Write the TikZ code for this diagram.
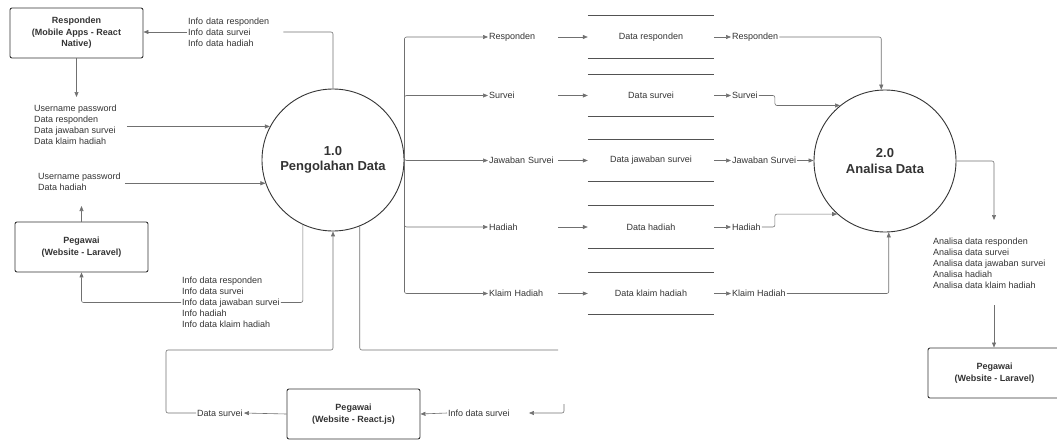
\documentclass[tikz,border=0pt]{standalone}
\usepackage{fontspec}
\setmainfont{Liberation Sans}
\usetikzlibrary{arrows.meta}

\definecolor{ink}{HTML}{333333}
\definecolor{linegray}{HTML}{707070}

\begin{document}
\begin{tikzpicture}[x=1pt, y=-1pt,
  entity/.style={draw=ink, line width=0.9pt, rounded corners=2pt, minimum width=133pt, minimum height=50pt, align=center, text=ink, font=\bfseries\fontsize{9}{11.5}\selectfont},
  process/.style={circle, draw=ink, line width=0.9pt, minimum size=142pt, inner sep=0pt, align=center, text=ink, font=\bfseries\fontsize{13}{15.5}\selectfont},
  lbl/.style={align=left, text=ink, font=\fontsize{9}{11}\selectfont, inner sep=1pt},
  slbl/.style={lbl, text width=68pt},
  store/.style={minimum width=126pt, minimum height=42pt, inner sep=0pt, text=ink, font=\fontsize{9}{11}\selectfont},
  storeline/.style={draw=ink!85, line width=1pt},
  wire/.style={draw=linegray, line width=0.6pt, rounded corners=2pt},
  flow/.style={wire, -{Triangle[length=5pt, width=4pt]}}]
\useasboundingbox (0,0) rectangle (1057,439);
\node[entity] (resp) at (76.5,33) {Responden\\(Mobile Apps - React\\Native)};
\node[entity] (pegL) at (81.5,247) {Pegawai\\(Website - Laravel)};
\node[entity] (pegR) at (353.5,414) {Pegawai\\(Website - React.js)};
\node[entity] (pegA) at (994.5,373) {Pegawai\\(Website - Laravel)};
\node[process] (p1) at (333,160) {1.0\\Pengolahan Data};
\node[process] (p2) at (885,161) {2.0\\Analisa Data};
\node[lbl, anchor=west, text width=94pt] (info1) at (187,32) {Info data responden\\Info data survei\\Info data hadiah};
\node[lbl, anchor=west] (in1) at (33,125) {Username password\\Data responden\\Data jawaban survei\\Data klaim hadiah};
\node[lbl, anchor=west] (in2) at (37,181.5) {Username password\\Data hadiah};
\node[lbl, anchor=west] (info2) at (181,302.5) {Info data responden\\Info data survei\\Info data jawaban survei\\Info hadiah\\Info data klaim hadiah};
\node[lbl, anchor=west] (dsv) at (196,413) {Data survei};
\node[lbl, anchor=west] (isv) at (447,413) {Info data survei};
\node[lbl, anchor=west] (out) at (932,263.5) {Analisa data responden\\Analisa data survei\\Analisa data jawaban survei\\Analisa hadiah\\Analisa data klaim hadiah};
\node[slbl, anchor=west] (lr1) at (488,37) {Responden};
\node[slbl, anchor=west] (lr2) at (488,95.5) {Survei};
\node[slbl, anchor=west] (lr3) at (488,160.5) {Jawaban Survei};
\node[slbl, anchor=west] (lr4) at (488,227) {Hadiah};
\node[slbl, anchor=west] (lr5) at (488,293.5) {Klaim Hadiah};
\node[store] (s1) at (651,37) {Data responden};
\node[store] (s2) at (651,95.5) {Data survei};
\node[store] (s3) at (651,160.5) {Data jawaban survei};
\node[store] (s4) at (651,227) {Data hadiah};
\node[store] (s5) at (651,293.5) {Data klaim hadiah};
\node[lbl, anchor=west] (rr1) at (731,37) {Responden};
\node[lbl, anchor=west] (rr2) at (731,95.5) {Survei};
\node[lbl, anchor=west] (rr3) at (731,160.5) {Jawaban Survei};
\node[lbl, anchor=west] (rr4) at (731,227) {Hadiah};
\node[lbl, anchor=west] (rr5) at (731,293.5) {Klaim Hadiah};
\coordinate (a1) at (76.5,97);
\coordinate (a2) at (81.5,206);
\coordinate (b1) at (166,350);
\coordinate (b2) at (558,350);
\coordinate (b3) at (564,404);
\coordinate (c1) at (994,220);
\coordinate (c2) at (994,305);
\draw[wire] (p1.north) |- (info1.east);
\draw[flow] (info1.west) -- (info1.west -| resp.east);
\draw[flow] (resp.south) -- (a1);
\draw[flow, shorten <=9pt] (in1.east |- p1.152) -- (p1.152);
\draw[flow, shorten <=3pt] (in2.east |- p1.199) -- (p1.199);
\draw[flow] (pegL.north) -- (a2);
\draw[wire] (p1.245) |- (info2.east);
\draw[flow] (info2.west) -| (pegL.south);
\draw[flow] (pegR.west) -- (dsv.east);
\draw[flow] (dsv.west) -| (b1) -| (p1.south);
\draw[wire] (p1.292) |- (b2);
\draw[flow, shorten >=18pt] (b3) |- (isv.east);
\draw[flow] (isv.west) -- (pegR.east);
\draw[flow] (p1.east) |- (lr1.west);
\draw[flow] (p1.east) |- (lr2.west);
\draw[flow] (p1.east) |- (lr3.west);
\draw[flow] (p1.east) |- (lr4.west);
\draw[flow] (p1.east) |- (lr5.west);
\draw[flow] (lr1.east) -- (lr1.east -| s1.west);
\draw[flow] (lr2.east) -- (lr2.east -| s2.west);
\draw[flow] (lr3.east) -- (lr3.east -| s3.west);
\draw[flow] (lr4.east) -- (lr4.east -| s4.west);
\draw[flow] (lr5.east) -- (lr5.east -| s5.west);
\draw[storeline] (s1.north west) -- (s1.north east) (s1.south west) -- (s1.south east);
\draw[storeline] (s2.north west) -- (s2.north east) (s2.south west) -- (s2.south east);
\draw[storeline] (s3.north west) -- (s3.north east) (s3.south west) -- (s3.south east);
\draw[storeline] (s4.north west) -- (s4.north east) (s4.south west) -- (s4.south east);
\draw[storeline] (s5.north west) -- (s5.north east) (s5.south west) -- (s5.south east);
\draw[flow] (s1.east) -- (s1.east -| rr1.west);
\draw[flow] (s2.east) -- (s2.east -| rr2.west);
\draw[flow] (s3.east) -- (s3.east -| rr3.west);
\draw[flow] (s4.east) -- (s4.east -| rr4.west);
\draw[flow] (s5.east) -- (s5.east -| rr5.west);
\draw[flow] (rr1.east) -| (p2.93);
\draw[flow] (rr2.east) -- ++(16,0) |- (p2.129);
\draw[flow] (rr3.east) -- (rr3.east -| p2.west);
\draw[flow] (rr4.east) -- ++(13,0) |- (p2.228);
\draw[flow] (rr5.east) -| (p2.273);
\draw[flow] (p2.east) -| (c1);
\draw[flow] (c2) -- (c2 |- pegA.north);
\end{tikzpicture}
\end{document}
